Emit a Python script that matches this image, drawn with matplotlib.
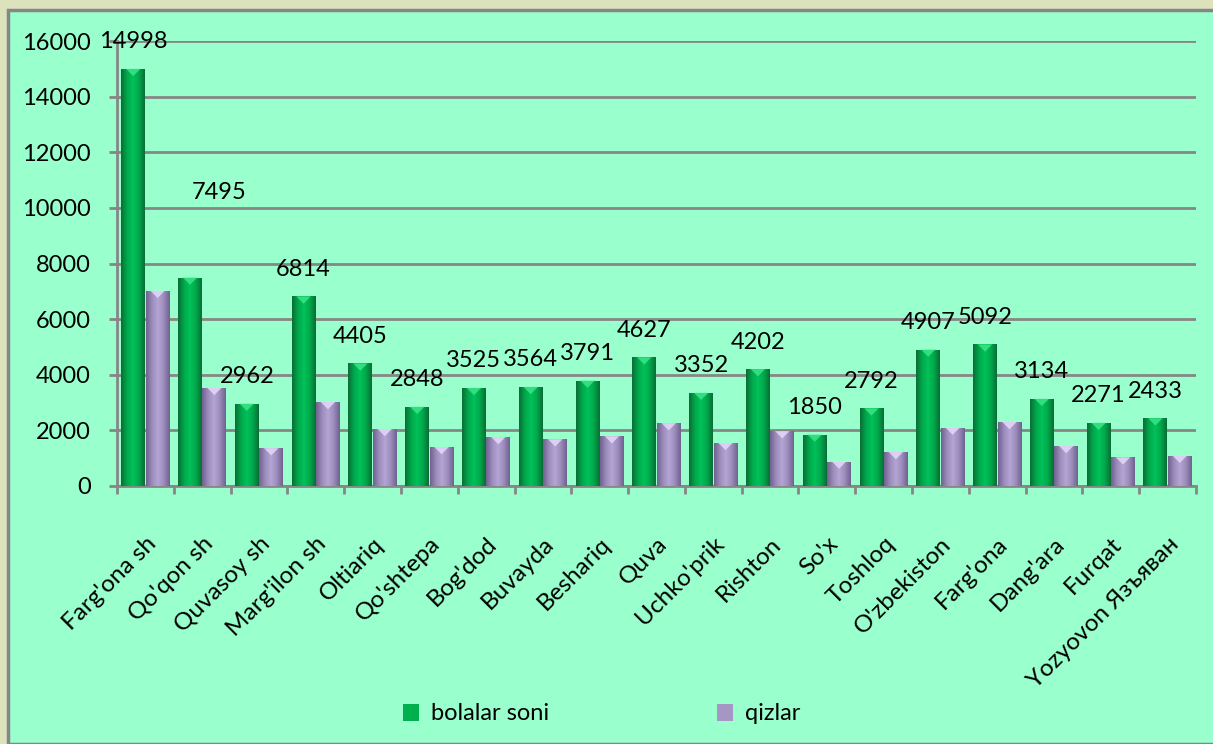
import numpy as np
import matplotlib
matplotlib.use('Agg')
import matplotlib.pyplot as plt
from matplotlib.colors import LinearSegmentedColormap
from matplotlib.patches import Rectangle, Polygon

# --- Daten ---
tumanlar = ["Farg'ona sh", "Qo'qon sh", "Quvasoy sh", "Marg'ilon sh", "Oltiariq",
            "Qo'shtepa", "Bog'dod", "Buvayda", "Beshariq", "Quva", "Uchko'prik",
            "Rishton", "So'x", "Toshloq", "O'zbekiston", "Farg'ona", "Dang'ara",
            "Furqat", "Yozyovon Язъяван"]
bolalar_soni = [14998, 7495, 2962, 6814, 4405, 2848, 3525, 3564, 3791, 4627,
                3352, 4202, 1850, 2792, 4907, 5092, 3134, 2271, 2433]
qizlar = [7020, 3530, 1360, 3020, 2050, 1400, 1760, 1680, 1790, 2260,
          1550, 1970, 880, 1220, 2100, 2300, 1440, 1030, 1090]
yticks = [0, 2000, 4000, 6000, 8000, 10000, 12000, 14000, 16000]

plt.rcParams['font.family'] = ['Lato', 'DejaVu Sans']

fon_yashil = '#99ffcc'
chiziq = '#868686'

fig = plt.figure(figsize=(12.13, 7.44), dpi=100)
fig.patch.set_facecolor('#dbe2bc')
# ichki panel
fig.patches.append(Rectangle((8 / 1213, 0), 1.0, 734 / 744, transform=fig.transFigure,
                             facecolor=fon_yashil, edgecolor=chiziq, linewidth=2.5, zorder=-5))

ax = fig.add_axes([117 / 1213, 1 - 486 / 744, (1196 - 117) / 1213, (486 - 41) / 744])
ax.set_facecolor('none')
ax.set_zorder(2)

x = np.arange(len(tumanlar))
w = 0.42
b1 = ax.bar(x - 0.215, bolalar_soni, width=w, color='#00b04f', zorder=3, label='bolalar soni')
b2 = ax.bar(x + 0.215, qizlar, width=w, color='#a696c4', zorder=3, label='qizlar')

# silindr effekti uchun gradient + yuqoridagi yorqin uchburchak
cm_g = LinearSegmentedColormap.from_list('g', ['#0a6e35', '#00a84a', '#00c15a', '#00a84a', '#0a6e35'])
cm_p = LinearSegmentedColormap.from_list('p', ['#6f6190', '#9c8cbc', '#b4a6d4', '#9c8cbc', '#6f6190'])
grad = np.linspace(0, 1, 64).reshape(1, -1)
for bars, cm, yorug in ((b1, cm_g, '#3ee88a'), (b2, cm_p, '#eadcff')):
    for p in bars:
        x0, y0 = p.get_x(), p.get_y()
        bw, bh = p.get_width(), p.get_height()
        im = ax.imshow(grad, cmap=cm, aspect='auto', zorder=4,
                       extent=(x0, x0 + bw, y0, y0 + bh))
        im.set_clip_path(p)
        tri = Polygon([(x0 + bw * 0.2, y0 + bh), (x0 + bw * 0.8, y0 + bh),
                       (x0 + bw * 0.5, y0 + bh - 260)], closed=True,
                      facecolor=yorug, edgecolor='none', alpha=0.8, zorder=4.5)
        ax.add_patch(tri)

ax.set_xlim(-0.5, len(tumanlar) - 0.5)
ax.set_ylim(0, 16000)
ax.set_yticks(yticks)
ax.set_yticklabels([str(v) for v in yticks])
ax.grid(axis='y', color=chiziq, linewidth=2, zorder=1)
ax.set_axisbelow(True)

for s in ['top', 'right']:
    ax.spines[s].set_visible(False)
for s in ['left', 'bottom']:
    ax.spines[s].set_color(chiziq)
    ax.spines[s].set_linewidth(2)

ax.set_xticks(x)
ax.set_xticklabels(tumanlar, rotation=45, ha='right', va='top', rotation_mode='anchor')
ax.set_xticks(np.arange(len(tumanlar) + 1) - 0.5, minor=True)
ax.tick_params(axis='x', which='major', length=0, pad=34, labelsize=17.5)
ax.tick_params(axis='x', which='minor', length=6, width=2, color=chiziq, direction='out')
ax.tick_params(axis='y', length=6, width=2, color=chiziq, pad=13, labelsize=17)

# qiymat yozuvlari
siljish = {1: (21, 61)}
for i, v in enumerate(bolalar_soni):
    dx, dy = siljish.get(i, (0, 19.5))
    ax.annotate(str(v), (x[i] - 0.215, v), xytext=(dx, dy), textcoords='offset points',
                ha='center', va='center', fontsize=17, zorder=5)

fig.legend(handles=[b1, b2], loc='center', bbox_to_anchor=(0.496, 1 - 714 / 744),
           ncol=2, frameon=False, fontsize=17, handlelength=0.7, handleheight=0.7,
           columnspacing=7.1, handletextpad=0.5)

fig.savefig('out.png', dpi=100, facecolor=fig.get_facecolor())
